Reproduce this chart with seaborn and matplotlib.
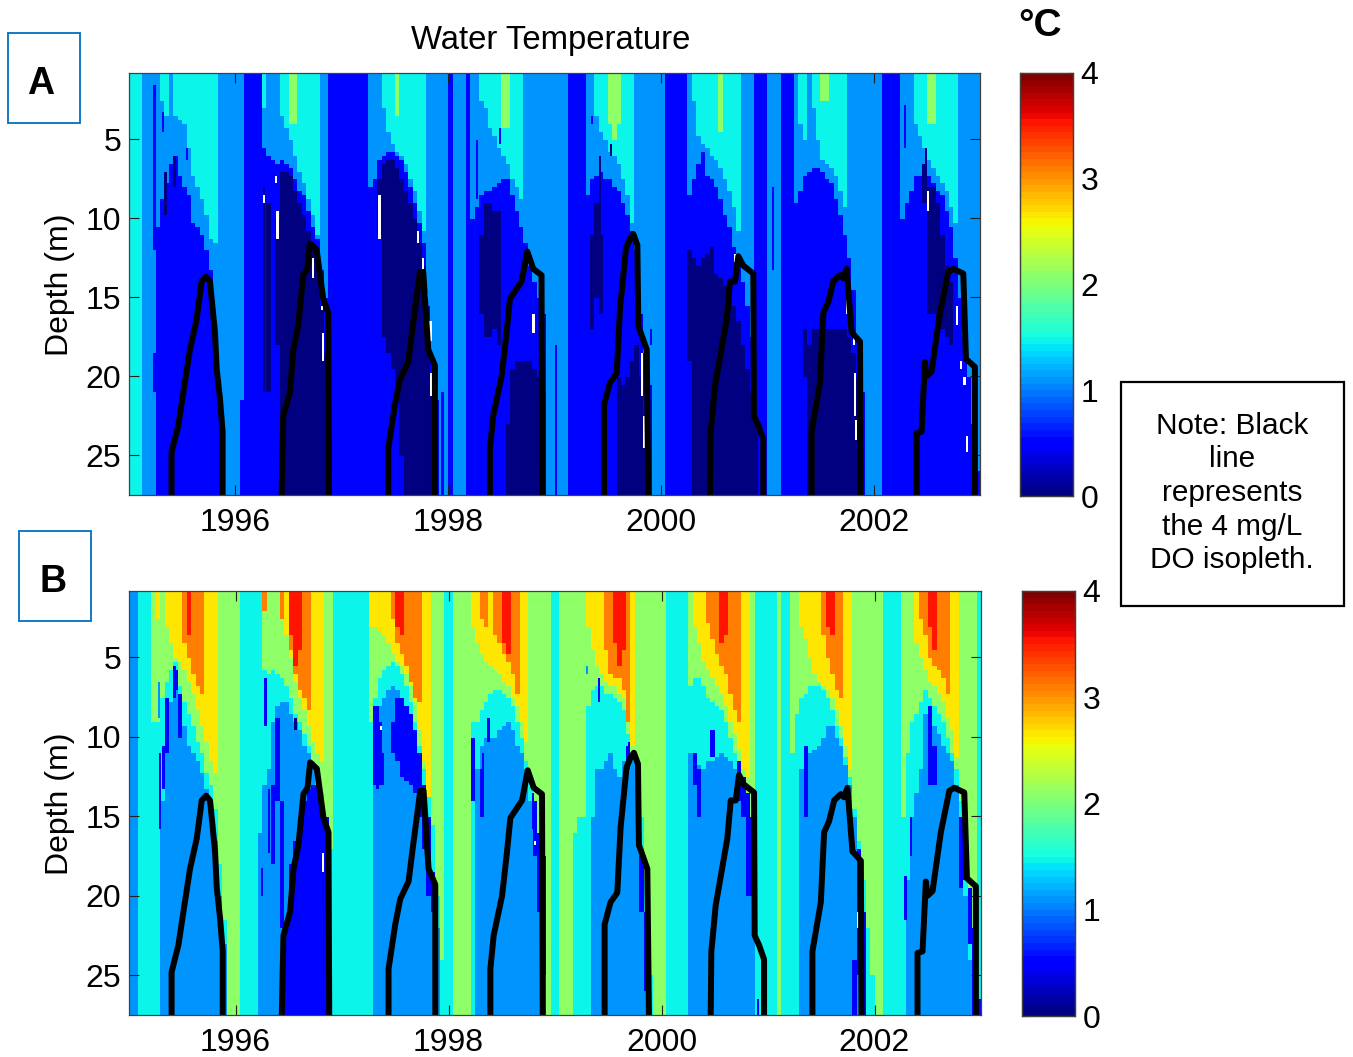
import numpy as np
import pandas as pd
import matplotlib
matplotlib.use("Agg")
import matplotlib.pyplot as plt
from matplotlib.patches import Rectangle
import seaborn as sns

YEARS = [1996, 1998, 2000, 2002]
DEPTH_TICKS = [5, 10, 15, 20, 25]
CBAR_TICKS = [0, 1, 2, 3, 4]
TITLE = "Water Temperature"
NOTE = "Note: Black\nline\nrepresents\nthe 4 mg/L\nDO isopleth."

# Temperature class -> value drawn (deg C)
CLASS_VALUE = {0.0: 0.03, 0.5: 0.5, 1.0: 1.1, 1.5: 1.48, 2.0: 2.1, 2.5: 2.65, 3.0: 3.12, 3.5: 3.55}

# Surface temperature by half-month column, one row per year (panel A)
A_SURF_1995 = [1.5,1.5,1.5,1,1,1,1,1.5,1.5,1,1.5,1.5,1.5,1.5,1.5,1.5,1.5,1.5,1.5,1.5,1,1,1,1]
A_SURF_1996 = [1,1,.5,.5,.5,.5,1.5,1,1,1,1.5,1.5,2,2,1.5,1.5,1.5,1.5,1.5,1,1,.5,.5,.5]
A_SURF_1997 = [.5,.5,.5,.5,.5,.5,1,1,1,1.5,1.5,1.5,2,1.5,1.5,1.5,1.5,1.5,1.5,1,1,1,1,1]
A_SURF_1998 = [.5,1,1,1,.5,1,1,1.5,1.5,1.5,1.5,1.5,2,2,1.5,1.5,1.5,1,1,1,1,1,1,1]
A_SURF_1999 = [1,1,1,.5,.5,.5,.5,1,1,1.5,1.5,1.5,2,2,2,1.5,1.5,1.5,1,1,1,1,1,1]
A_SURF_2000 = [1,.5,.5,.5,.5,.5,1,1.5,1.5,1.5,1.5,1.5,1.5,2,1.5,1.5,1.5,1.5,1,1,1,.5,.5,.5]
A_SURF_2001 = [1,1,1,.5,.5,.5,1,1.5,1.5,1,1.5,1.5,2,2,1.5,1.5,1.5,1.5,1,1,1,1,1,1]
A_SURF_2002 = [1,1,.5,.5,.5,.5,1,1,1,1.5,1.5,1.5,2,2,1.5,1.5,1.5,1.5,1.5,1,1,1,1,1]

# Isotherm depths (m): {first column: depths of consecutive columns}
A_TO_15 = {36:[4,4], 60:[3.5], 84:[4.2,4.2], 108:[4,5,4], 133:[4.5], 156:[2.5,2.5], 180:[4,4]}
A_TO_1 = {
    7:[2.5,3.5], 10:[3.5,3.8,4.1,5.6,7.3,8.1,8.8,9.8,11.3,11.5],
    30:[3], 34:[3.5,4.2,5,6,7,7.8,8.8,9.8,11],
    57:[3,4.5,5.3,5.8,6,6.6,7.5,8.4,9.5,10.8],
    79:[2.5,3,4.3,4.8,5.5,6,6.5,7.5,8,8.7],
    105:[3.5,4.5,5,5.8,6,6.6,7.5,8.5,10.3],
    127:[2.5,4.8,5.3,5.6,6,6.3,6.8,7.5,8.4,9.3,10.7],
    151:[4,5], 154:[3,5,6.3,6.5,6.9,7.4,8.2,9.2],
    177:[4,4.8,5.6,6.2,6.9,7.3,7.8,8.4,9.2,10.2],
}
A_TO_05 = {
    6:[10.5,8.8,7.7,6.6,6,7.3,8,8.5,10.2,10.6,11.1,12,13.4,19,21.8], 25:[21.5],
    30:[5.6,6,6.2,6.5,6.4,6.5,6.8,7.6,8.2,8.6,9.6,10.5,11.3,13.3,15],
    54:[8,7.5,6.4,6,5.9,5.8,6,6.3,7,8,9,10.3,11.5,15.5,19,21.5],
    77:[10,9.3,8.5,8.3,8.2,8,7.8,7.5,7.6,8.5,9.5,10.5,11.5,13,14,15,16],
    103:[8.5,7.5,7.3,7,7.5,7.5,8,8.3,9,9.7,10.9,12,16,18.5,20.5],
    126:[8.5,7.5,6.5,5.8,7.2,7.6,8.1,8.8,9.7,10.6,11.7,12.5,14,15.5,17.5],
    150:[9,8.2,7.4,7,6.8,6.7,7,7.5,7.8,8.8,9.7,11,12.5,14.5,17.5,21],
    174:[10,9,8.2,7.3,7.2,6.8,7.3,7.8,8.2,8.6,9.5,10.5,12.5,15,17.5,20,23,26],
}
A_TO_0 = {
    31:[9], 33:[10,7,7,7.3,8.2,9,9.8,10.8,11.5,13,15.5,18.5],
    56:[7.5,6.5,6.3,6.4,6.8,7.5,8.3,9,10,11.5,13,16.5,20],
    79:[11,9,9,9.5,9.5], 85:[23,19.5,19,19,19,19,19.5,20,21],
    104:[11,9,11], 110:[20,20.5,20,19,18,20,23],
    126:[12,12.5,13,12.5,12.3,11.8,13.5,13.8,14.3,14.8,15.5,16.5,18,19.5,21,23],
    152:[17,18,17,17,17,17,17,17,17,17,17.5,18.5,20],
    179:[6.5,8,8,9,11,13,14],
}
A_TO_0_END = {
    31:[21], 33:[18,23,99,99,99,99,99,99,99,99,99,99],
    56:[11,17.5,18.5,19.5,21,25,99,99,99,99,99,99,99],
    79:[16,17.5,17.5,17,18], 85:[99,99,99,99,99,99,99,99,99],
    104:[17,15,16], 110:[99,99,99,99,99,99,99],
    126:[19]+[99]*15,
    152:[20]+[99]*12,
    179:[9,16,16,16.5,17,17.5,18],
}
# Thin vertical streaks: column position, top depth, bottom depth, class
A_STREAK_COL = [5.6,5.6,7.6,10,8.1,12.9,30.3,83.7,78.3,77.3,70.5,96.1,104.4,108.5,117.6,145,175.5,174.8,179.6,38.5,43,60.5,106,128,136]
A_STREAK_TOP = [1.6,18.5,3.3,6,7,5.6,8,4.3,5,17,21,18,3.5,5.4,17,8,13,2.8,5.6,12,20,11,6,16,14]
A_STREAK_BOT = [12,21,4.5,8.1,9.8,6.4,21,5.2,8.8,21,27.5,27.5,4.1,6,18,13.4,19,5.6,7,16,24,15,11,20,18]
A_STREAK_CLS = [.5,.5,.5,0,0,.5,0,.5,.5,.5,.5,.5,.5,0,.5,.5,.5,.5,0,.5,.5,.5,0,.5,.5]
# Gaps in the record (white)
A_GAP_COL = [30.3,33.1,33.3,41.35,43.3,43.7,56.4,65,66,67.1,66.5,67.9,68,91.05,92.5,115.7,116.05,136.7,140.3,161.8,163.3,163.6,163.8,180.2,186.5,187.7,188.3,188.8]
A_GAP_TOP = [8.55,7.3,9.6,12.6,15.6,17.3,8.65,10.9,12.6,14.7,16.7,16.5,19.7,16,19.1,18.6,22.6,12.2,19.6,14.7,17.4,19.7,22.7,8.3,15.5,19.1,20,23.7]
A_GAP_BOT = [8.97,7.7,11.4,13.8,15.9,19,11.4,11.6,13.2,15.4,17.1,17.7,21.2,17.2,20,21.2,24.4,12.8,21.6,16,18,22.5,24.1,9.5,16.8,19.5,20.4,24.8]

# Panel B surface temperature
B_SURF_1995 = [1,1,1.5,1.5,1.5,2,2.5,2,2.5,2.5,2.5,2.5,3,3.5,3,3,3,2.5,2.5,2.5,2,2,2,2]
B_SURF_1996 = [2,1.5,1.5,1.5,1.5,1.5,3,2,2,2,3,2.5,3.5,3.5,3.5,3,3,2.5,2.5,2.5,2,2,1.5,1.5]
B_SURF_1997 = [1.5,1.5,1.5,1.5,1.5,1.5,2.5,2.5,2.5,2.5,2.5,3,3.5,3.5,3,3,3,3,2.5,2.5,2,2,2,1.5]
B_SURF_1998 = [1.5,2,2,2,2,2.5,2.5,3,3,2.5,3,3,3.5,3.5,3,3,2.5,2.5,2,2,2,2,2,1.5]
B_SURF_1999 = [1.5,2,2,2,2,2,2,2.5,2.5,2.5,2.5,3,3,3.5,3.5,3.5,3,2.5,2,2,2,2,2,2]
B_SURF_2000 = [2,1.5,1.5,1.5,1.5,1.5,2,2.5,2.5,2.5,3,3,3,3.5,3.5,3,3,3,2.5,2.5,2,1.5,1.5,1.5]
B_SURF_2001 = [1.5,1.5,2,1.5,1.5,2,2,2.5,2.5,2.5,2.5,2.5,3,3.5,3.5,3,3,2.5,2.5,2,2,2,2,2]
B_SURF_2002 = [2,2,1.5,1.5,1.5,1.5,2,2,2,2.5,3,3,3.5,3.5,3,3,3,2.5,2.5,2,2,2,2,1.5]

B_TO_3 = {13:[3.5], 36:[3.5,5.5,4.5], 60:[3,3.5], 84:[4,4.8], 109:[4,5.5,4.5],
          133:[4,3.5], 157:[3,3.5], 180:[3,4.5]}
B_TO_25 = {
    12:[4,5,6,6.8,7.2], 34:[2.5], 36:[4.5,6,7,7.5,8.3],
    59:[2.5,4,4.8,5.5,6.5,7.6,7.7],
    79:[2.5,3], 82:[3.5,4,4.8,5.3,6,7.3],
    107:[4.5,6,6.3,6.3,7,9.2],
    130:[2.8,3.8,4.8,5.5,6,7.3,8.2,9],
    156:[3.5,5,6,7,7.5],
    178:[2.5,3.5,5,5.6,5.9,6.4,7.3],
}
B_TO_2 = {
    6:[2.5], 8:[3,4,5,5.3,5.7,6.5,7.3,8.2,9.3,10.3,11.5,12.3],
    30:[2], 34:[2.5,3.5,5,6.5,7.5,8.2,9.2,10.2,11,11.5],
    54:[3,3,3.2,3.5,4,4.8,5.3,5.6,6,6.8,7.7,9.5,11.5,14],
    77:[3,4,4.8,5.3,5.6,5.8,6,6.5,6.8,7.5,8,9,10.2],
    103:[3,4.5,5.5,6,6.5,6.8,6.9,7.2,7.6,9,10.6],
    127:[3,4,5.2,5.8,6.3,6.7,7.3,8,9,9.8,10.7,12,12.6],
    151:[3,3.7,5,6,6.5,6.8,7,7.5,8.3,9.2,10.5,12],
    177:[4,5,5.8,6.5,6.9,7.2,7.8,8.8,9.5,11.2],
}
B_TO_15 = {
    5:[9,9,7.5,6.5,5.8,5.4,6.8,7.8,8.5,9.2,10.2,11,12.2,13,14.5,18,21.5],
    30:[5.7,6,5.8,6,6.3,6.8,7.5,8.5,9,9.7,10.5,11.5,12.3,13.5,15,17],
    54:[9,7.5,6.3,5.8,5.5,5.3,5.5,6,6.8,7.8,9,10.5,12,13.8,15.5,20,24],
    77:[9,9,8.3,7.8,7.3,7,7,7.2,7.5,8,9,10,11.5,12.5,14.5,16.5,18],
    100:[16,15,15,8,7,6.8,6.8,7.3,7.4,7.6,7.8,8.2,9.8,11,11.5,15,19,25],
    126:[6.8,6.3,6.2,6.8,7.5,7.8,8,8.3,9,10,11,12,13.5,14.5,17],
    149:[11,8.5,7.5,7.2,6.8,6.7,6.7,7,7.5,8.3,9.3,10,11.3,12.5,14.5,16.5,19,22,25],
    174:[15,11,9,8.5,7.8,7,7.5,8,8.5,9,10,11,12,14,17,19.5,22.5,26],
}
B_TO_1 = {
    7:[14,9.5,7.7,6.8,7.8,9.2,10.5,11,11.5,12.3,13.2,14,16.5,20,23],
    29:[16,13,12,9,8,7.8,7.7,8.5,9,9.5,10.6,11,12,13,14.5,16.5],
    55:[8.5,8,7.5,7,6.8,7,7.5,8.5,9.5,11,12.5,14,16,19,22],
    78:[12,10.5,10,10,10,9.5,9.2,9,9.5,10.5,11,12,14,15.5,17,19],
    104:[15,12,12,11.5,11,12,12.5,11.5,10.5,11,13,17,22],
    126:[11,11.2,11.8,12,11.5,11.5,11.2,11,11.2,11.5,12,13,14.5,16,19],
    151:[12,10.8,11,10.8,10.5,10,9.2,9.2,10,10.5,11.8,13,15,18,21],
    175:[19,15,13.5,12,8.5,9,9.3,9.7,10.5,11,11.5,13,17,20,24,26],
}
B_TO_05 = {
    8:[7.5], 10:[5.8,7.3], 32:[13,8.7,14], 35:[22,18,16.5,15.5,14,13.3,13,13,14,15],
    55:[8,9], 59:[9,7.5,7.5,8,8.5,9.5,11,13,15,18.5],
    77:[10], 79:[12], 91:[14,16,17.5],
    112:[10.5], 115:[17.5,21],
    127:[11,12], 131:[9.6], 137:[11.5,12.5,13.5,15],
    152:[10.5], 163:[24,17,21],
    180:[8,10.5], 187:[15,15,19.5,22,26.5],
}
B_TO_05_END = {
    8:[11], 10:[7,10], 32:[18,14,22], 35:[99]*10,
    55:[13,13], 59:[11,11.5,12.5,12.8,13,13.5,15,17,20,21],
    77:[14], 79:[15], 91:[17.5,21,25],
    112:[12], 115:[21,26],
    127:[13,15], 131:[11.2], 137:[14,15,20,20],
    152:[15], 163:[99,25,99],
    180:[13,13], 187:[19.5,19,23,99,99],
}
B_STREAK_COL = [6.6,6.8,7.7,8.5,10.2,11.1,30.5,31.4,32.6,29.9,37.4,55.9,57,77.3,79.5,80.9,90.8,103,105.9,112.5,141.6,174.9,176.2]
B_STREAK_TOP = [6.6,11,10.6,7.5,5.6,7.7,6.4,13.4,13.8,18.3,8.8,8,11,10.6,11,8.8,13.5,5.5,6.4,10.3,26.5,18.7,15]
B_STREAK_BOT = [8.8,15.7,13.4,10.4,7.5,10,9.2,17.2,17.2,20,9.6,13.4,13,13.4,13,10.4,15.9,6.1,7.9,11.5,27.5,21.4,17.6]
B_STREAK_CLS = [1,.5,.5,.5,.5,.5,.5,.5,.5,.5,0,.5,.5,.5,.5,.5,.5,1,.5,.5,.5,.5,.5]
B_GAP_COL = [56.5,43.7,91.3,164]
B_GAP_TOP = [9.2,17.4,16.5,21]
B_GAP_BOT = [9.6,18.5,16.9,22]

# Black 4 mg/L DO isopleth, one (time, depth) pair of lists per year
DO_T_1995 = [1995.40,1995.40,1995.464,1995.511,1995.573,1995.636,1995.683,1995.724,1995.761,1995.808,1995.824,1995.855,1995.880,1995.880]
DO_D_1995 = [27.5,24.8,23.1,21,18.3,16.4,14,13.7,14,17.2,19.5,21.4,23.5,27.5]
DO_T_1996 = [1996.435,1996.450,1996.513,1996.545,1996.591,1996.638,1996.676,1996.701,1996.764,1996.826,1996.873,1996.880]
DO_D_1996 = [27.5,22.5,21,18.3,16.8,13.6,13.2,11.6,12,15.1,16,27.5]
DO_T_1997 = [1997.437,1997.437,1997.500,1997.547,1997.625,1997.672,1997.735,1997.766,1997.813,1997.876,1997.876]
DO_D_1997 = [27.5,24.6,21.8,20.2,19.1,16.6,13.4,13.4,18.3,19.3,27.5]
DO_T_1998 = [1998.393,1998.393,1998.424,1998.503,1998.550,1998.581,1998.691,1998.744,1998.800,1998.878,1998.885]
DO_D_1998 = [27.5,24.6,22.5,20,17.2,15.1,14,12.1,13.2,13.6,27.5]
DO_T_1999 = [1999.466,1999.466,1999.522,1999.585,1999.616,1999.672,1999.710,1999.741,1999.779,1999.788,1999.867,1999.882]
DO_D_1999 = [27.5,21.8,20.4,19.8,15.7,11.9,11.3,11,11.7,16.8,18.3,27.5]
DO_T_2000 = [2000.462,2000.468,2000.509,2000.618,2000.650,2000.697,2000.728,2000.775,2000.869,2000.875,2000.916,2000.963,2000.963]
DO_D_2000 = [27.5,23.5,20.6,16.4,14,14,12.4,13,13.5,22.5,23.1,24,27.5]
DO_T_2001 = [2001.417,2001.417,2001.496,2001.527,2001.574,2001.621,2001.684,2001.715,2001.746,2001.793,2001.872,2001.878]
DO_D_2001 = [27.5,23.5,20.4,16,15.3,14,13.6,13.8,13.2,17.2,17.8,27.5]
DO_T_2002 = [2002.404,2002.404,2002.451,2002.482,2002.498,2002.545,2002.623,2002.702,2002.749,2002.843,2002.868,2002.952,2002.952]
DO_D_2002 = [27.5,23.6,23.5,19.1,20,19.7,16,13.4,13.2,13.5,18.9,19.4,27.5]

DO_LINES = [(DO_T_1995,DO_D_1995),(DO_T_1996,DO_D_1996),(DO_T_1997,DO_D_1997),(DO_T_1998,DO_D_1998),
            (DO_T_1999,DO_D_1999),(DO_T_2000,DO_D_2000),(DO_T_2001,DO_D_2001),(DO_T_2002,DO_D_2002)]

T0, T1 = 1995.0, 2003.0
D0, D1 = 0.82, 27.5
W, H = 1353, 1057
SUB = 4
depths = np.linspace(D0, D1, 108)[:-1] + (D1 - D0) / 214


def build(surface, steps, streaks, gaps):
    g = np.repeat(np.array(surface, float)[None, :], depths.size, axis=0)
    for level, iso, ends in steps:
        for start, vals in iso.items():
            for i, d in enumerate(vals):
                c = start + i
                below = depths >= d
                if ends is not None:
                    below &= depths < ends[start][i]
                g[below, c] = np.minimum(g[below, c], level)
    g = np.repeat(g, SUB, axis=1)
    for c, a, b, lev in zip(*streaks):
        k = int(c * SUB)
        rows = (depths >= a) & (depths <= b)
        g[rows, k:k + 2] = np.minimum(g[rows, k:k + 2], lev)
    out = np.vectorize(CLASS_VALUE.get)(g).astype(float)
    for c, a, b in zip(*gaps):
        k = int(c * SUB)
        out[(depths >= a) & (depths <= b), k:k + 2] = np.nan
    return out


A_surface = A_SURF_1995 + A_SURF_1996 + A_SURF_1997 + A_SURF_1998 + A_SURF_1999 + A_SURF_2000 + A_SURF_2001 + A_SURF_2002
B_surface = B_SURF_1995 + B_SURF_1996 + B_SURF_1997 + B_SURF_1998 + B_SURF_1999 + B_SURF_2000 + B_SURF_2001 + B_SURF_2002
grid_A = build(A_surface, [(1.5, A_TO_15, None), (1.0, A_TO_1, None), (0.5, A_TO_05, None), (0.0, A_TO_0, A_TO_0_END)],
               (A_STREAK_COL, A_STREAK_TOP, A_STREAK_BOT, A_STREAK_CLS), (A_GAP_COL, A_GAP_TOP, A_GAP_BOT))
grid_B = build(B_surface, [(3.0, B_TO_3, None), (2.5, B_TO_25, None), (2.0, B_TO_2, None), (1.5, B_TO_15, None),
                           (1.0, B_TO_1, None), (0.5, B_TO_05, B_TO_05_END)],
               (B_STREAK_COL, B_STREAK_TOP, B_STREAK_BOT, B_STREAK_CLS), (B_GAP_COL, B_GAP_TOP, B_GAP_BOT))

sns.set_style("white")
plt.rcParams["font.family"] = ["Liberation Sans", "DejaVu Sans"]
plt.rcParams["text.color"] = "black"
plt.rcParams["xtick.labelcolor"] = "black"
plt.rcParams["ytick.labelcolor"] = "black"
fig = plt.figure(figsize=(W / 100, H / 100), dpi=100)


def box(l, t, r, b):
    return [l / W, 1 - b / H, (r - l) / W, (b - t) / H]


cmap = plt.get_cmap("jet").resampled(64)
EDGE = "#404040"


def panel(grid, axbox, cbox):
    ax = fig.add_axes(box(*axbox))
    cax = fig.add_axes(box(*cbox))
    sns.heatmap(grid, ax=ax, cbar_ax=cax, cmap=cmap, vmin=0, vmax=4,
                xticklabels=False, yticklabels=False, cbar_kws={"ticks": CBAR_TICKS})
    ax.tick_params(left=False, bottom=False)
    cax.tick_params(axis="y", which="both", direction="in", length=3, width=0.8, right=True, left=True,
                    labelsize=23, pad=5.5, color="black")
    cax.set_yticklabels([str(t) for t in CBAR_TICKS])
    for s in cax.spines.values():
        s.set_visible(True); s.set_color(EDGE); s.set_linewidth(0.9)
    over = fig.add_axes(box(*axbox), facecolor="none", zorder=3)
    for t, d in DO_LINES:
        sns.lineplot(x=t, y=d, ax=over, sort=False, estimator=None, color="black", linewidth=4.3, errorbar=None)
    over.set_xlim(T0, T1)
    over.set_ylim(D1, D0)
    over.set_xticks(YEARS)
    over.set_yticks(DEPTH_TICKS)
    over.set_xlabel("")
    over.set_ylabel("")
    over.tick_params(axis="both", direction="in", length=7, width=0.8, top=True, right=True, bottom=True, left=True,
                     labelsize=23, color="#202020")
    over.tick_params(axis="x", pad=9.5)
    over.tick_params(axis="y", pad=5.5)
    for s in over.spines.values():
        s.set_visible(True); s.set_color(EDGE); s.set_linewidth(0.9)
    return over


panel(grid_A, (129, 73, 980, 495), (1020, 73, 1073, 496))
panel(grid_B, (129, 591, 981, 1015), (1022, 591, 1075, 1016))


def px_text(x, y, s, **kw):
    fig.text(x / W, 1 - y / H, s, ha="center", va="center", **kw)


px_text(551, 41, TITLE, fontsize=23.7)
px_text(60, 285, "Depth (m)", fontsize=23, rotation=90)
px_text(60, 804, "Depth (m)", fontsize=23, rotation=90)
px_text(1040, 26, "°C", fontsize=28, fontweight="bold")
px_text(41, 84, "A", fontsize=27, fontweight="bold")
px_text(53, 582, "B", fontsize=27, fontweight="bold")
px_text(1232, 493, NOTE, fontsize=21.4, linespacing=1.26)

for l, t, r, b, c, lw in [(8, 33, 80, 123, "#0070c0", 1.3), (19, 531, 91, 621, "#0070c0", 1.3),
                          (1121, 382, 1344, 606, "black", 1.6)]:
    fig.add_artist(Rectangle((l / W, 1 - b / H), (r - l) / W, (b - t) / H, transform=fig.transFigure,
                             fill=False, edgecolor=c, linewidth=lw))

fig.savefig("out.png", dpi=100)
